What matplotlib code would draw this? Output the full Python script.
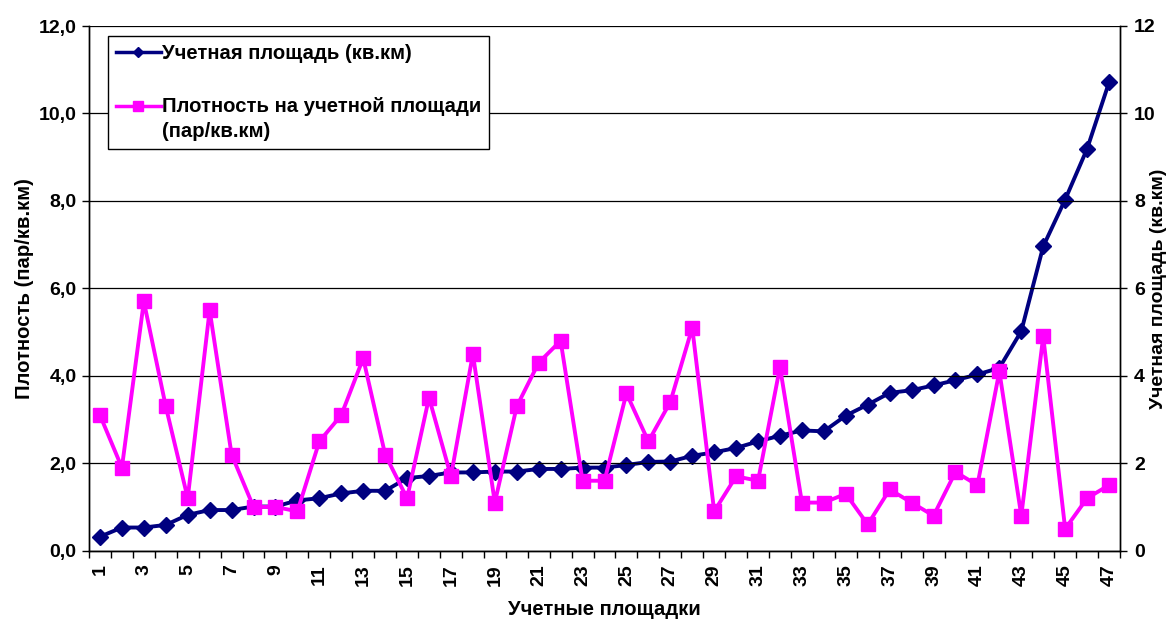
import matplotlib
matplotlib.use("Agg")
import matplotlib.pyplot as plt
from matplotlib.lines import Line2D
from matplotlib.legend_handler import HandlerLine2D

plt.rcParams['font.family'] = ['Liberation Sans', 'DejaVu Sans']
plt.rcParams['font.weight'] = 'bold'
plt.rcParams['axes.labelweight'] = 'bold'

# номера учетных площадок
plots = list(range(1, 48))

# плотность на учетной площади (пар/кв.км)
density = [3.1, 1.9, 5.7, 3.3, 1.2, 5.5, 2.2, 1.0, 1.0, 0.9,
           2.5, 3.1, 4.4, 2.2, 1.2, 3.5, 1.7, 4.5, 1.1, 3.3,
           4.3, 4.8, 1.6, 1.6, 3.6, 2.5, 3.4, 5.1, 0.9, 1.7,
           1.6, 4.2, 1.1, 1.1, 1.3, 0.6, 1.4, 1.1, 0.8, 1.8,
           1.5, 4.1, 0.8, 4.9, 0.5, 1.2, 1.5]

# учетная площадь (кв.км)
area = [0.32, 0.53, 0.53, 0.59, 0.82, 0.93, 0.93, 1.01, 1.01, 1.15,
        1.2, 1.31, 1.37, 1.37, 1.66, 1.71, 1.79, 1.79, 1.81, 1.81,
        1.87, 1.87, 1.9, 1.9, 1.96, 2.03, 2.04, 2.17, 2.25, 2.35,
        2.5, 2.63, 2.75, 2.73, 3.09, 3.34, 3.61, 3.67, 3.78, 3.9,
        4.03, 4.18, 5.02, 6.96, 8.03, 9.19, 10.71]

left_ticks = [0, 2, 4, 6, 8, 10, 12]
left_labels = ["0,0", "2,0", "4,0", "6,0", "8,0", "10,0", "12,0"]
right_labels = ["0", "2", "4", "6", "8", "10", "12"]

BLUE = "#000080"
PINK = "#FF00FF"
FS = 14      # подписи делений
LFS = 14.6   # подписи осей и легенда


class TopLineHandler(HandlerLine2D):
    """Маркер легенды на уровне первой строки подписи."""

    def __init__(self, shift=0.0, **kw):
        super().__init__(**kw)
        self.shift = shift

    def create_artists(self, legend, orig_handle, xdescent, ydescent,
                       width, height, fontsize, trans):
        return super().create_artists(legend, orig_handle, xdescent,
                                      ydescent - 2 * self.shift, width,
                                      height, fontsize, trans)


fig = plt.figure(figsize=(11.76, 6.23), dpi=100)
ax = fig.add_axes([89 / 1176, 1 - 550.7 / 623, (1120 - 89) / 1176, (550.7 - 26) / 623])
ax2 = ax.twinx()
# плотность рисуется поверх площади
ax.set_zorder(ax2.get_zorder() + 1)
ax.patch.set_visible(False)

ax2.plot(plots, area, color=BLUE, lw=2.8, marker="D", ms=8,
         markerfacecolor=BLUE, markeredgecolor=BLUE, zorder=3)
ax.plot(plots, density, color=PINK, lw=2.8, marker="s", ms=10.5,
        markerfacecolor=PINK, markeredgecolor=PINK, zorder=3)

for a in (ax, ax2):
    a.set_xlim(0.5, 47.5)
    a.set_ylim(0, 12)
    a.set_yticks(left_ticks)
    a.spines['top'].set_visible(False)
    for s in ('left', 'right', 'bottom'):
        a.spines[s].set_linewidth(1.0)
        a.spines[s].set_color("black")

ax.set_yticklabels(left_labels, fontsize=FS)
ax2.set_yticklabels(right_labels, fontsize=FS)
ax.tick_params(axis='y', direction='out', length=5, width=1, pad=4)
ax2.tick_params(axis='y', direction='out', length=5, width=1, pad=5)

ax.grid(axis='y', color="black", lw=0.9)
ax.set_axisbelow(True)

# подписи по оси X: каждая вторая площадка, деления между категориями
ax.set_xticks(plots)
ax.set_xticklabels([str(p) if p % 2 == 1 else "" for p in plots],
                   rotation=90, fontsize=FS)
ax.tick_params(axis='x', which='major', length=0, pad=10)
ax.set_xticks([p - 0.5 for p in plots] + [47.5], minor=True)
ax.tick_params(axis='x', which='minor', direction='out', length=5, width=1)
ax2.tick_params(axis='x', which='both', length=0)

ax.set_ylabel("Плотность (пар/кв.км)", fontsize=LFS)
ax.yaxis.set_label_coords(-0.053, 0.5)
ax2.set_ylabel("Учетная площадь (кв.км)", fontsize=14)
ax2.yaxis.set_label_coords(1.029, 0.5)
ax.set_xlabel("Учетные площадки", fontsize=LFS, labelpad=10)

handles = [
    Line2D([], [], color=BLUE, lw=2.5, marker="D", ms=5.5),
    Line2D([], [], color=PINK, lw=2.5, marker="s", ms=7.5),
]
labels = ["Учетная площадь (кв.км)",
          "Плотность на учетной площади\n(пар/кв.км)"]
leg = ax.legend(handles, labels, loc="upper left",
                bbox_to_anchor=(108 / 1176, 1 - 36 / 623),
                bbox_transform=fig.transFigure,
                handler_map={handles[1]: TopLineHandler(shift=9.5)},
                fontsize=LFS, frameon=True, fancybox=False,
                edgecolor="black", framealpha=1, labelspacing=1.65,
                handlelength=2.2, handletextpad=0.05, borderpad=0.4,
                borderaxespad=0)
leg.get_frame().set_linewidth(1.0)
for t in leg.get_texts():
    t.set_linespacing(1.4)

fig.savefig("out.png", dpi=100)
